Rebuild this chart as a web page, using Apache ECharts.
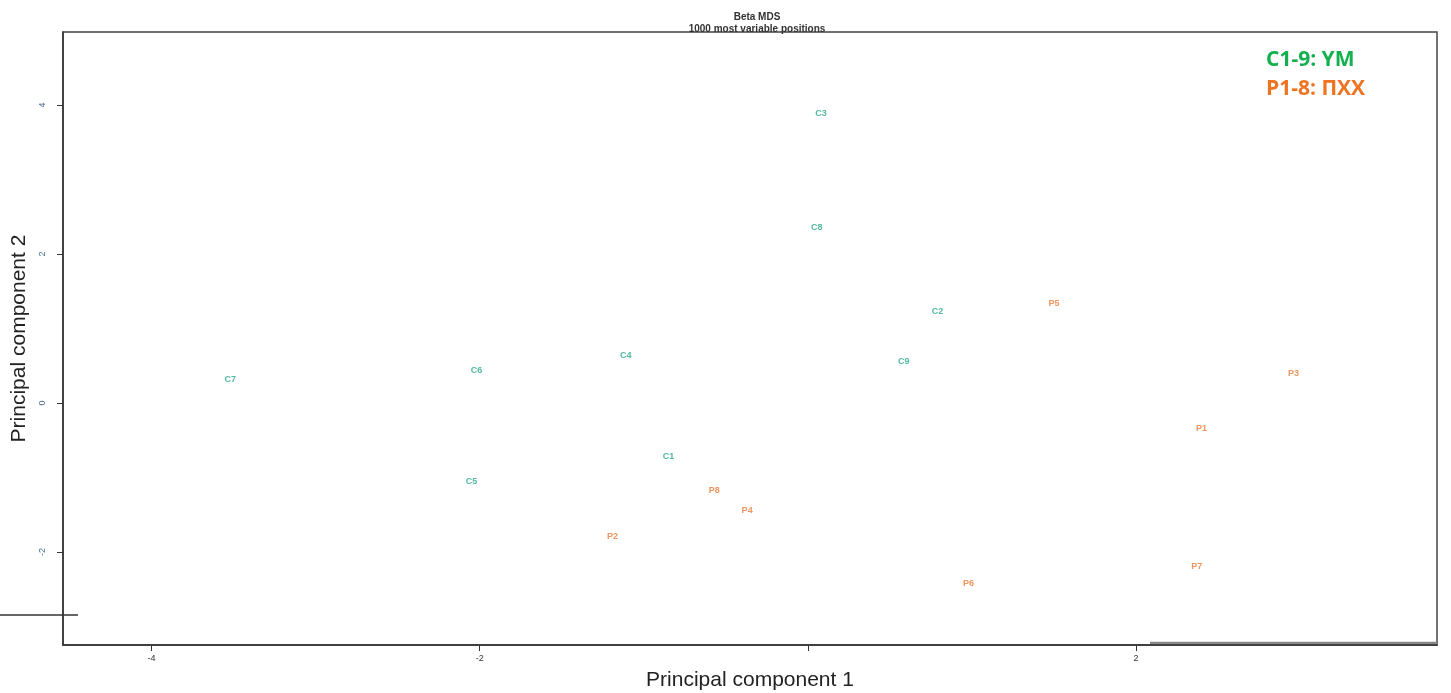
<!DOCTYPE html>
<html>
<head>
<meta charset="utf-8">
<script src="https://cdn.jsdelivr.net/npm/echarts@6/dist/echarts.min.js"></script>
<style>
  html, body { margin: 0; padding: 0; background: #fff; }
  #chart { width: 1451px; height: 693px; }
</style>
</head>
<body>
<div id="chart"></div>
<script>
// sample names and MDS coordinates
const cNames = ["C1", "C2", "C3", "C4", "C5", "C6", "C7", "C8", "C9"];
const cX = [-0.85, 0.79, 0.08, -1.11, -2.05, -2.02, -3.52, 0.055, 0.585];
const cY = [-0.72, 1.23, 3.89, 0.63, -1.06, 0.43, 0.32, 2.36, 0.55];

const pNames = ["P1", "P2", "P3", "P4", "P5", "P6", "P7", "P8"];
const pX = [2.40, -1.19, 2.96, -0.37, 1.50, 0.98, 2.37, -0.57];
const pY = [-0.35, -1.79, 0.39, -1.44, 1.33, -2.42, -2.19, -1.18];

const xTicks = [-4, -2, 0, 2];
const xTickLabels = [-4, -2, 2];
const yTicks = [-2, 0, 2, 4];

const myChart = echarts.init(document.getElementById("chart"));

function toData(names, xs, ys) {
	return names.map((n, i) => [xs[i], ys[i], n]);
}

function labelSeries(name, data, color) {
	return {
		name: name,
		type: "scatter",
		symbolSize: 1,
		itemStyle: { color: "rgba(0,0,0,0)" },
		label: {
			show: true,
			position: "inside",
			formatter: p => p.data[2],
			color: color,
			fontFamily: "Liberation Sans",
			fontWeight: "bold",
			fontSize: 9
		},
		data: data
	};
}

const option = {
	animation: false,
	title: {
		text: "Beta MDS\n1000 most variable positions",
		left: 752,
		top: 6,
		textAlign: "center",
		textStyle: {
			fontFamily: "Liberation Sans",
			fontWeight: "bold",
			fontSize: 10,
			lineHeight: 12,
			color: "#333"
		}
	},
	grid: {
		left: 63,
		right: 14,
		top: 32,
		bottom: 48,
		containLabel: false,
		outerBoundsMode: "none",
		show: true,
		borderColor: "#444",
		borderWidth: 1.5
	},
	xAxis: {
		type: "value",
		min: -4.54,
		max: 3.835,
		name: "Principal component 1",
		nameLocation: "middle",
		nameGap: 25,
		nameTextStyle: { fontFamily: "Liberation Sans", fontSize: 21, color: "#222" },
		splitLine: { show: false },
		axisLine: { onZero: false, lineStyle: { color: "#333", width: 1.5 } },
		axisTick: { customValues: xTicks, length: 6, lineStyle: { color: "#333" } },
		axisLabel: {
			customValues: xTickLabels,
			margin: 9,
			fontFamily: "Liberation Sans",
			fontSize: 9,
			color: "#333"
		}
	},
	yAxis: {
		type: "value",
		min: -3.25,
		max: 4.98,
		name: "Principal component 2",
		nameLocation: "middle",
		nameGap: 32,
		nameTextStyle: { fontFamily: "Liberation Sans", fontSize: 21, color: "#222" },
		splitLine: { show: false },
		axisLine: { onZero: false, lineStyle: { color: "#333", width: 1.5 } },
		axisTick: { customValues: yTicks, length: 6, lineStyle: { color: "#333" } },
		axisLabel: {
			customValues: yTicks,
			rotate: 90,
			margin: 16,
			fontFamily: "Liberation Sans",
			fontSize: 9,
			color: "#4a6a8a"
		}
	},
	graphic: [
		{
			type: "line",
			shape: { x1: 0, y1: 615, x2: 78, y2: 615 },
			style: { stroke: "#333", lineWidth: 1.5 }
		},
		{
			type: "line",
			shape: { x1: 1150, y1: 643, x2: 1437, y2: 643 },
			style: { stroke: "#888", lineWidth: 2.5 }
		},
		{
			type: "text",
			left: 1266,
			top: 50,
			style: {
				text: "C1-9: YM",
				fill: "#12b04e",
				font: "bold 21px 'Open Sans'"
			}
		},
		{
			type: "text",
			left: 1266,
			top: 79,
			style: {
				text: "P1-8: ПХХ",
				fill: "#ee7422",
				font: "bold 21px 'Open Sans'"
			}
		}
	],
	series: [
		labelSeries("C", toData(cNames, cX, cY), "#27a88a"),
		labelSeries("P", toData(pNames, pX, pY), "#ea7a36")
	]
};

myChart.setOption(option);
</script>
</body>
</html>
